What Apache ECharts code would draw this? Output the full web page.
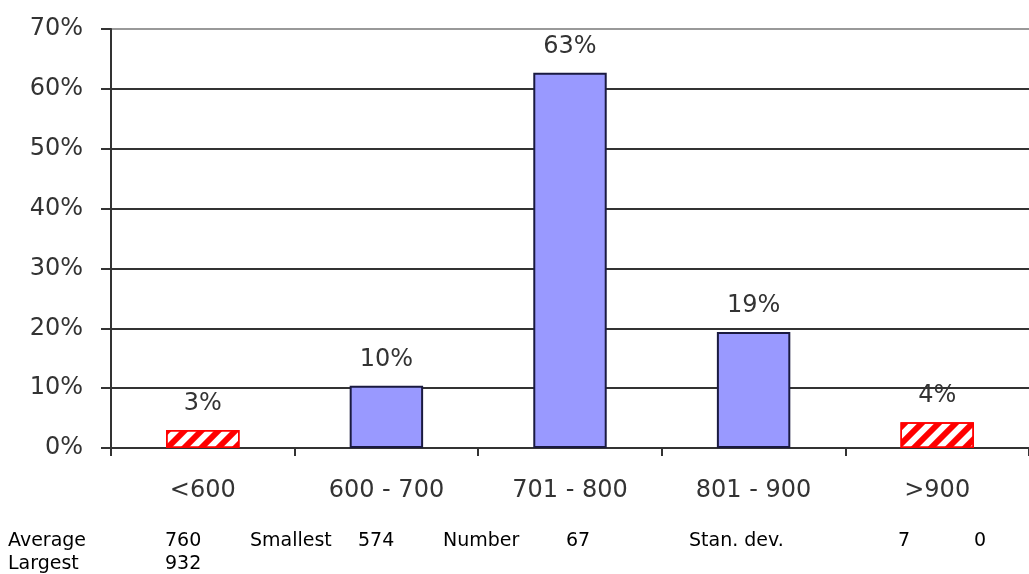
<!DOCTYPE html>
<html><head><meta charset="utf-8">
<script src="https://cdn.jsdelivr.net/npm/echarts@6/dist/echarts.min.js"></script>
<style>html,body{margin:0;padding:0;background:#fff}#c{width:1029px;height:574px}</style>
</head><body><div id="c"></div>
<script>
const categories = ['<600', '600 - 700', '701 - 800', '801 - 900', '>900'];
const shares = [3.0, 10.4, 62.7, 19.4, 4.3];
const hatched = [true, false, false, false, true];
const yTicks = [0, 10, 20, 30, 40, 50, 60, 70];
const statsRow1 = [['Average', 8], ['760', 165], ['Smallest', 250], ['574', 358], ['Number', 443], ['67', 566], ['Stan. dev.', 689], ['7', 898], ['0', 974]];
const statsRow2 = [['Largest', 8], ['932', 165]];

const chart = echarts.init(document.getElementById('c'));
const font = '"DejaVu Sans", sans-serif';
const data = shares.map((v, i) => hatched[i] ? {
  value: v,
  itemStyle: {
    color: '#ffffff', borderColor: '#ff0000', borderWidth: 1.5,
    decal: { symbol: 'rect', dashArrayX: [1, 0], dashArrayY: [6, 6], rotation: -Math.PI / 4, color: '#ff0000', symbolSize: 1 }
  }
} : { value: v });

const graphics = [];
statsRow1.forEach(([t, x]) => graphics.push({ type: 'text', left: x, top: 532, style: { text: t, font: '19px ' + font, fill: '#000' } }));
statsRow2.forEach(([t, x]) => graphics.push({ type: 'text', left: x, top: 555, style: { text: t, font: '19px ' + font, fill: '#000' } }));

chart.setOption({
  animation: false,
  grid: { left: 111, top: 29, width: 923, height: 419 },
  xAxis: {
    type: 'category', data: categories,
    axisLine: { lineStyle: { color: '#333', width: 2 } },
    axisTick: { show: true, length: 8, lineStyle: { color: '#333', width: 2 } },
    axisLabel: { fontSize: 24, color: '#333', fontFamily: font, margin: 31 }
  },
  yAxis: {
    type: 'value', min: 0, max: 70, interval: 10,
    axisLine: { show: true, lineStyle: { color: '#333', width: 2 } },
    axisTick: { show: true, length: 10, lineStyle: { color: '#333', width: 2 } },
    splitLine: { lineStyle: { color: ['#333', '#333', '#333', '#333', '#333', '#333', '#333', '#999'], width: 2 } },
    axisLabel: { fontSize: 24, color: '#333', fontFamily: font, margin: 28, formatter: v => yTicks.includes(v) ? v + '%' : '' }
  },
  series: [{
    type: 'bar', data: data, barWidth: '40%',
    itemStyle: { color: '#9999ff', borderColor: '#1a1a40', borderWidth: 2 },
    label: { show: true, position: 'top', distance: 14, fontSize: 24, color: '#333', fontFamily: font, formatter: p => Math.round(p.value) + '%' }
  }],
  graphic: graphics
});
</script></body></html>
